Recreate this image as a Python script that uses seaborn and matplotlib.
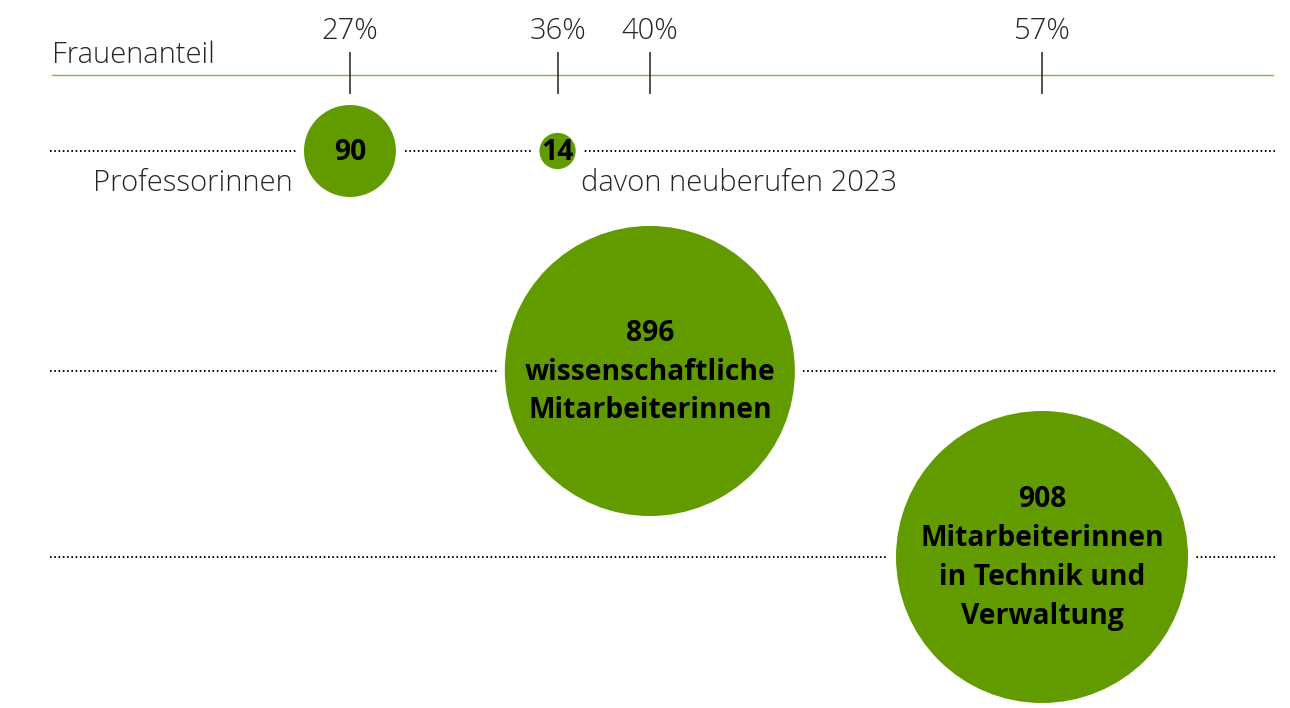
import matplotlib
matplotlib.use("Agg")
import matplotlib.pyplot as plt
import numpy as np
import pandas as pd
import seaborn as sns

# --- data -------------------------------------------------------------
groups = ["Professorinnen", "davon neuberufen 2023",
          "wissenschaftliche Mitarbeiterinnen",
          "Mitarbeiterinnen in Technik und Verwaltung"]
counts = [90, 14, 896, 908]            # number of women
shares = [27, 36, 40, 57]              # share of women in %
rows = ["Professuren", "Professuren", "Wissenschaft", "Technik/Verwaltung"]
inner_text = ["", "", "wissenschaftliche\nMitarbeiterinnen",
              "Mitarbeiterinnen\nin Technik und\nVerwaltung"]
outer_text = ["Professorinnen", "davon neuberufen 2023", "", ""]
axis_title = "Frauenanteil"

df = pd.DataFrame({"group": groups, "count": counts, "share": shares,
                   "row": rows, "inner": inner_text, "outer": outer_text})

# --- layout -----------------------------------------------------------
W, H, DPI = 1290, 708, 100
ROW_Y = {"Professuren": 151, "Wissenschaft": 371, "Technik/Verwaltung": 557}
df["y"] = df["row"].map(ROW_Y)

GREEN = "#629B00"
LINE_GREEN = "#7DB84A"
TEXT = "#262626"
MAX_DIAM_PX = 292                       # diameter of the largest bubble
S_MAX = (MAX_DIAM_PX * 72 / DPI) ** 2   # marker area in pt^2
HALO_PT = 8 * 72 / DPI                  # white gap around bubbles
FS_LIGHT = 21
FS_BOLD = 20.3
LIGHT = dict(fontsize=FS_LIGHT, fontweight="light", color=TEXT)

sns.set_theme(style="white")
plt.rcParams["font.family"] = ["Open Sans", "DejaVu Sans"]

fig = plt.figure(figsize=(W / DPI, H / DPI), dpi=DPI)
ax = fig.add_axes([0, 0, 1, 1])
ax.set_xlim(11.83, 67.75)
ax.set_ylim(H, 0)
ax.axis("off")

# top scale: green baseline, ticks and percentage labels
ax.axhline(75, xmin=52 / W, xmax=1273 / W, color=LINE_GREEN, lw=1.0, zorder=1)
ax.vlines(df["share"].unique(), 52, 94, color="#333333", lw=1.2, zorder=1)
for s in df["share"].unique():
    ax.text(s, 39, f"{s}%", ha="center", va="baseline", **LIGHT)
ax.text(52 / W, 63, axis_title, transform=ax.get_yaxis_transform(),
        ha="left", va="baseline", **LIGHT)

# dotted row guides
for y in ROW_Y.values():
    ax.axhline(y, xmin=50 / W, xmax=1277 / W, color="black", lw=1.4,
               linestyle=(0, (0.8, 1.4)), zorder=1)

# bubbles: area proportional to count
areas = S_MAX * df["count"] / df["count"].max()
ax.scatter(df["share"], df["y"], s=(np.sqrt(areas) + 2 * HALO_PT) ** 2,
           color="white", linewidths=0, zorder=2)
sns.scatterplot(data=df, x="share", y="y", size="count",
                sizes=(0, S_MAX), size_norm=(0, df["count"].max()),
                color=GREEN, linewidth=0, alpha=1, legend=False,
                ax=ax, zorder=3)
ax.set_xlabel("")
ax.set_ylabel("")

# labels inside the bubbles
for _, r in df.iterrows():
    label = f"{r['count']}" + (f"\n{r['inner']}" if r["inner"] else "")
    ax.text(r["share"], r["y"] + 1, label, ha="center", va="center",
            fontsize=FS_BOLD, fontweight="bold", color="black",
            linespacing=1.45, zorder=4)

rad_pt = np.sqrt(areas) / 2
# "Professorinnen" to the left, below the row line
i = 0
ax.annotate(df.loc[i, "outer"], xy=(df.loc[i, "share"], df.loc[i, "y"]),
            xytext=(-(rad_pt[i] + 8), -28.5), textcoords="offset points",
            ha="right", va="baseline", **LIGHT)
# "davon neuberufen 2023" to the right, below the row line
i = 1
ax.annotate(df.loc[i, "outer"], xy=(df.loc[i, "share"], df.loc[i, "y"]),
            xytext=(rad_pt[i] + 4, -28.5), textcoords="offset points",
            ha="left", va="baseline", **LIGHT)

fig.savefig("out.png", dpi=DPI, facecolor="white")
